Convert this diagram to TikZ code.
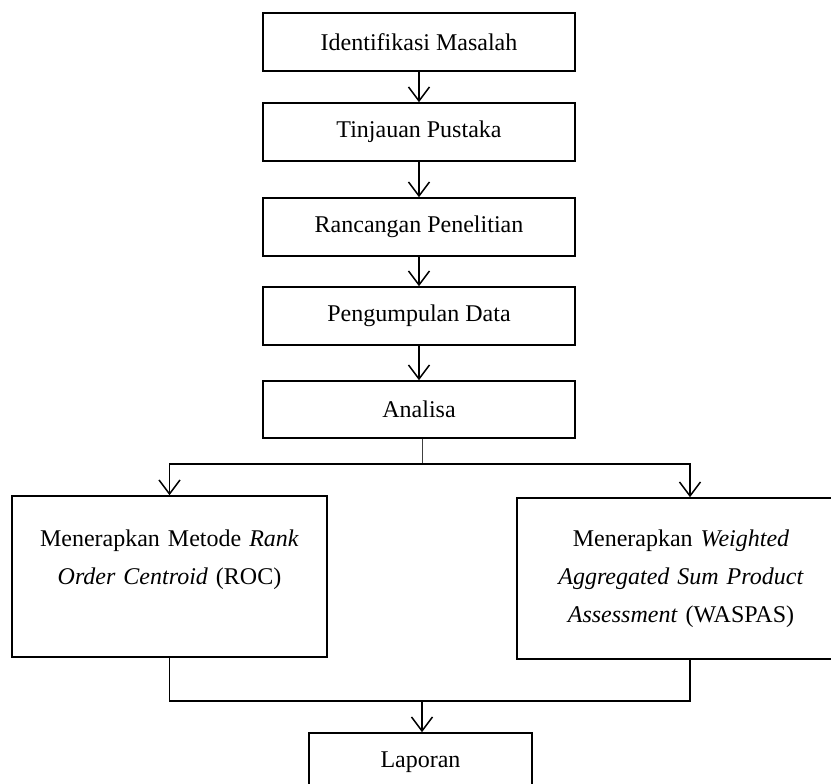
\documentclass[tikz,border=0pt]{standalone}
\usepackage{fontspec}
\setmainfont{Liberation Serif}
\usetikzlibrary{arrows.meta,calc}
\begin{document}
\begin{tikzpicture}[x=1pt,y=-1pt,
  box/.style={draw,line width=1.6pt,inner sep=0pt,font=\fontsize{24}{38}\selectfont,align=center},
  conn/.style={line width=1.6pt},
  thinconn/.style={line width=0.9pt,black!75},
  arr/.style={conn,-{Straight Barb[length=14pt,width=21pt,line width=1.5pt]}}]
\useasboundingbox (0,0) rectangle (831,784);
\clip (0,0) rectangle (831,784);
\node[box,minimum width=312pt,minimum height=58pt] (b1) at (419,42) {Identifikasi Masalah};
\node[box,minimum width=312pt,minimum height=58pt] (b2) at (419,132) {Tinjauan Pustaka};
\node[box,minimum width=312pt,minimum height=58pt] (b3) at (419,227) {Rancangan Penelitian};
\node[box,minimum width=312pt,minimum height=58pt] (b4) at (419,316) {Pengumpulan Data};
\node[box,minimum width=312pt,minimum height=57pt] (b5) at (419,409.5) {Analisa};
\node[box,minimum width=315pt,minimum height=161pt,text width=300pt] (roc) at (169.5,576.5)
  {Menerapkan Metode \textit{Rank}\\ \textit{Order Centroid} (ROC)\\ \mbox{}};
\node[box,minimum width=328pt,minimum height=161pt,text width=310pt] (wasp) at (681,578.5)
  {Menerapkan \textit{Weighted}\\ \textit{Aggregated Sum Product}\\ \textit{Assessment} (WASPAS)};
\node[box,minimum width=223pt,minimum height=58pt] (lap) at (420.5,762) {Laporan};
\draw[arr] (b1.south) -- (b2.north);
\draw[arr] (b2.south) -- (b3.north);
\draw[arr] (b3.south) -- (b4.north);
\draw[arr] (b4.south) -- (b5.north);
\coordinate (split) at (422,464);
\draw[thinconn] (b5.south -| split) -- (split);
\draw[arr] (split) -| (roc.north);
\draw[arr] (split) -| ([xshift=9pt]wasp.north);
\coordinate (merge) at (422,701);
\draw[conn] (roc.south) |- (merge);
\draw[conn] ([xshift=9pt]wasp.south) |- (merge);
\draw[arr] (merge) -- (merge |- lap.north);
\end{tikzpicture}
\end{document}
